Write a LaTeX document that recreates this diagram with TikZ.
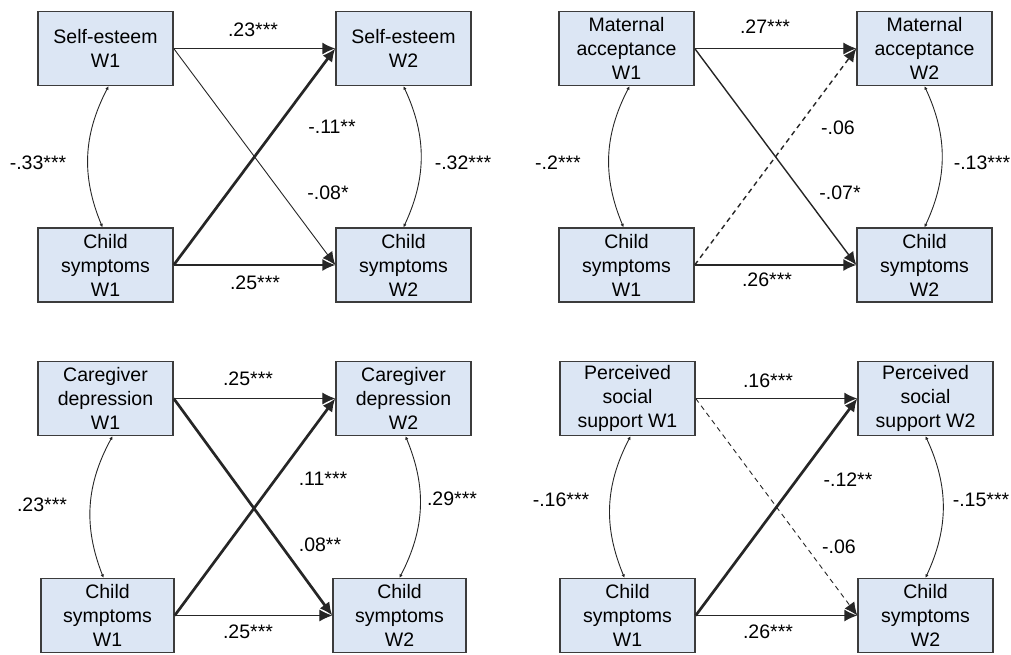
\documentclass[tikz,border=0pt]{standalone}
\usepackage{fontspec}
\setmainfont{Liberation Sans}
\usetikzlibrary{arrows.meta}
\definecolor{boxfill}{HTML}{DCE6F4}
\definecolor{boxline}{HTML}{3C3C3C}
\def\ulpos{(105.5,48.5)}
\def\urpos{(403.5,48.5)}
\def\llpos{(105.5,265)}
\def\lrpos{(403.5,265)}
\def\rightsh{521}
\def\downsh{350}
\tikzset{
  var/.style={draw=boxline, fill=boxfill, line width=1.4pt, minimum width=135pt,
    minimum height=74pt, inner sep=0pt, align=center},
  coef/.style={inner sep=0pt},
  path/.style={-{Latex[length=13pt,width=12pt]}, line width=1.4pt, draw=black!85},
  weak/.style={path, line width=0.9pt},
  strong/.style={path, line width=2.7pt},
  nonsig/.style={dash pattern=on 5pt off 4pt},
  cov/.style={{Latex[length=3.5pt,width=3.5pt]}-{Latex[length=3.5pt,width=3.5pt]},
    line width=0.9pt, draw=black!85}
}
\begin{document}
\begin{tikzpicture}[x=1pt, y=-1pt, font=\fontsize{19.5}{24}\selectfont]
\useasboundingbox (0,0) rectangle (1011,654);
% self-esteem
\node [var] (se1) at \ulpos {Self-esteem\\W1};
\node [var] (se2) at \urpos {Self-esteem\\W2};
\node [var] (csa1) at \llpos {Child\\symptoms\\W1};
\node [var] (csa2) at \lrpos {Child\\symptoms\\W2};
\draw [path] (se1.east) -- (se2.west);
\draw [weak] (se1.east) -- (csa2.west);
\draw [strong] (csa1.east) -- (se2.west);
\draw [path] (csa1.east) -- (csa2.west);
\draw [cov] ([xshift=3pt]se1.south) to [bend right=25] ([xshift=-3pt]csa1.north);
\draw [cov] (se2.south) to [bend left=25] (csa2.north);
\node [coef] at (253,30) {.23***};
\node [coef] at (332,127) {-.11**};
\node [coef] at (38,163) {-.33***};
\node [coef] at (328,193) {-.08*};
\node [coef] at (463,163) {-.32***};
\node [coef] at (255,283) {.25***};
% maternal acceptance
\begin{scope} [shift={(\rightsh,0)}]
  \node [var] (ma1) at \ulpos {Maternal\\acceptance\\W1};
  \node [var] (ma2) at \urpos {Maternal\\acceptance\\W2};
  \node [var] (csb1) at \llpos {Child\\symptoms\\W1};
  \node [var] (csb2) at \lrpos {Child\\symptoms\\W2};
  \draw [weak] (ma1.east) -- (ma2.west);
  \draw [path] (ma1.east) -- (csb2.west);
  \draw [path, nonsig] (csb1.east) -- (ma2.west);
  \draw [path] (csb1.east) -- (csb2.west);
  \draw [cov] ([xshift=3pt]ma1.south) to [bend right=25] ([xshift=-3pt]csb1.north);
  \draw [cov] (ma2.south) to [bend left=25] (csb2.north);
  \node [coef] at (244,27) {.27***};
  \node [coef] at (317,128) {-.06};
  \node [coef] at (37,163) {-.2***};
  \node [coef] at (319,193) {-.07*};
  \node [coef] at (461,163) {-.13***};
  \node [coef] at (246,280) {.26***};
\end{scope}
% caregiver depression
\begin{scope} [shift={(0,\downsh)}]
  \node [var] (cd1) at \ulpos {Caregiver\\depression\\W1};
  \node [var] (cd2) at \urpos {Caregiver\\depression\\W2};
  \node [var, minimum width=133pt] (csc1) at (107.5,265.5) {Child\\symptoms\\W1};
  \node [var, minimum width=133pt] (csc2) at (399.5,265.5) {Child\\symptoms\\W2};
  \draw [weak] (cd1.east) -- (cd2.west);
  \draw [strong] (cd1.east) -- (csc2.west);
  \draw [strong] (csc1.east) -- (cd2.west);
  \draw [weak] (csc1.east) -- (csc2.west);
  \draw [cov] ([xshift=7pt]cd1.south) to [bend right=25] ([xshift=-4pt]csc1.north);
  \draw [cov] ([xshift=2pt]cd2.south) to [bend left=25] (csc2.north);
  \node [coef] at (248,29) {.25***};
  \node [coef] at (323,129) {.11***};
  \node [coef] at (42,155) {.23***};
  \node [coef] at (452,149) {.29***};
  \node [coef] at (320,195) {.08**};
  \node [coef] at (248,282) {.25***};
\end{scope}
% perceived social support
\begin{scope} [shift={(\rightsh+1,\downsh)}]
  \node [var] (ps1) at \ulpos {Perceived\\social\\support W1};
  \node [var] (ps2) at \urpos {Perceived\\social\\support W2};
  \node [var] (csd1) at (105.5,265.5) {Child\\symptoms\\W1};
  \node [var] (csd2) at (403.5,265.5) {Child\\symptoms\\W2};
  \draw [path] (ps1.east) -- (ps2.west);
  \draw [weak, nonsig] (ps1.east) -- (csd2.west);
  \draw [strong] (csd1.east) -- (ps2.west);
  \draw [path] (csd1.east) -- (csd2.west);
  \draw [cov] ([xshift=3pt]ps1.south) to [bend right=25] ([xshift=-3pt]csd1.north);
  \draw [cov] (ps2.south) to [bend left=25] (csd2.north);
  \node [coef] at (246,31) {.16***};
  \node [coef] at (326,130) {-.12**};
  \node [coef] at (39,150) {-.16***};
  \node [coef] at (317,197) {-.06};
  \node [coef] at (459,150) {-.15***};
  \node [coef] at (246,282) {.26***};
\end{scope}
\end{tikzpicture}
\end{document}
